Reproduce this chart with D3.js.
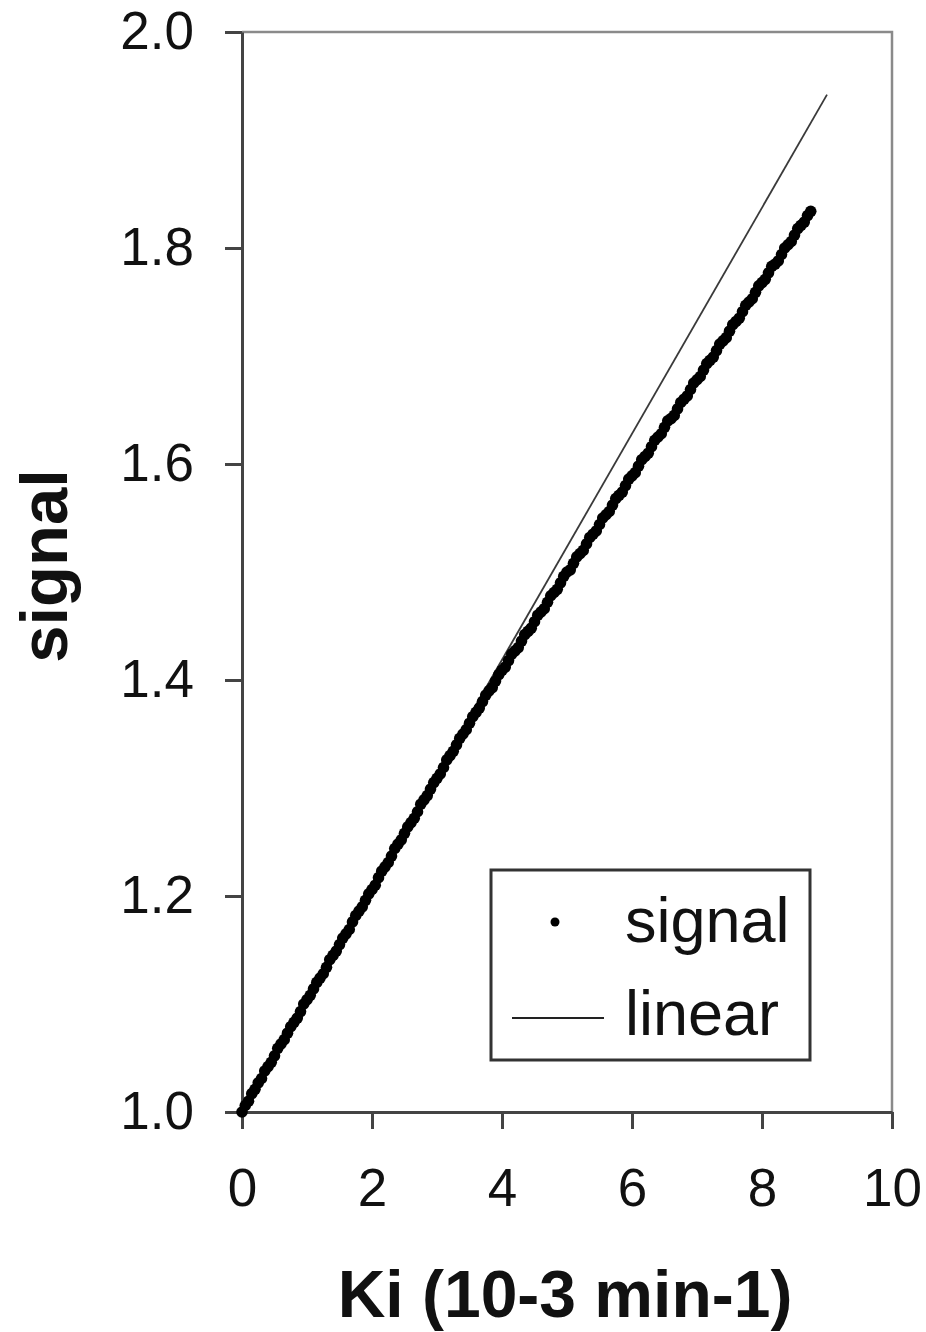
<!DOCTYPE html>
<html>
<head>
<meta charset="utf-8">
<script src="https://cdn.jsdelivr.net/npm/d3@7"></script>
<style>
  body { margin: 0; background: #fff; }
  text { font-family: "Liberation Sans", Arial, sans-serif; }
</style>
</head>
<body>
<div id="chart"></div>
<script>
// Ki values (10-3 min-1) of the measured signal points
var kiValues = [
  0.00, 0.05, 0.10, 0.15, 0.20, 0.25, 0.30, 0.35, 0.40, 0.45,
  0.50, 0.55, 0.60, 0.65, 0.70, 0.75, 0.80, 0.85, 0.90, 0.95,
  1.00, 1.05, 1.10, 1.15, 1.20, 1.25, 1.30, 1.35, 1.40, 1.45,
  1.50, 1.55, 1.60, 1.65, 1.70, 1.75, 1.80, 1.85, 1.90, 1.95,
  2.00, 2.05, 2.10, 2.15, 2.20, 2.25, 2.30, 2.35, 2.40, 2.45,
  2.50, 2.55, 2.60, 2.65, 2.70, 2.75, 2.80, 2.85, 2.90, 2.95,
  3.00, 3.05, 3.10, 3.15, 3.20, 3.25, 3.30, 3.35, 3.40, 3.45,
  3.50, 3.55, 3.60, 3.65, 3.70, 3.75, 3.80, 3.85, 3.90, 3.95,
  4.00, 4.05, 4.10, 4.15, 4.20, 4.25, 4.30, 4.35, 4.40, 4.45,
  4.50, 4.55, 4.60, 4.65, 4.70, 4.75, 4.80, 4.85, 4.90, 4.95,
  5.00, 5.05, 5.10, 5.15, 5.20, 5.25, 5.30, 5.35, 5.40, 5.45,
  5.50, 5.55, 5.60, 5.65, 5.70, 5.75, 5.80, 5.85, 5.90, 5.95,
  6.00, 6.05, 6.10, 6.15, 6.20, 6.25, 6.30, 6.35, 6.40, 6.45,
  6.50, 6.55, 6.60, 6.65, 6.70, 6.75, 6.80, 6.85, 6.90, 6.95,
  7.00, 7.05, 7.10, 7.15, 7.20, 7.25, 7.30, 7.35, 7.40, 7.45,
  7.50, 7.55, 7.60, 7.65, 7.70, 7.75, 7.80, 7.85, 7.90, 7.95,
  8.00, 8.05, 8.10, 8.15, 8.20, 8.25, 8.30, 8.35, 8.40, 8.45,
  8.50, 8.55, 8.60, 8.65, 8.70, 8.75];

// signal
var signalValues = [
  1.000, 1.006, 1.010, 1.017, 1.021, 1.027, 1.031, 1.038, 1.042, 1.046,
  1.052, 1.059, 1.063, 1.067, 1.073, 1.079, 1.083, 1.087, 1.093, 1.100,
  1.104, 1.108, 1.114, 1.120, 1.124, 1.128, 1.134, 1.141, 1.145, 1.149,
  1.155, 1.161, 1.165, 1.169, 1.176, 1.182, 1.186, 1.190, 1.196, 1.202,
  1.206, 1.210, 1.217, 1.223, 1.227, 1.231, 1.237, 1.244, 1.248, 1.252,
  1.258, 1.264, 1.268, 1.272, 1.278, 1.285, 1.289, 1.293, 1.299, 1.305,
  1.309, 1.313, 1.319, 1.326, 1.330, 1.334, 1.340, 1.346, 1.350, 1.354,
  1.360, 1.366, 1.370, 1.374, 1.380, 1.386, 1.390, 1.393, 1.399, 1.405,
  1.409, 1.412, 1.418, 1.424, 1.427, 1.430, 1.436, 1.442, 1.445, 1.448,
  1.454, 1.460, 1.463, 1.466, 1.472, 1.478, 1.481, 1.484, 1.490, 1.496,
  1.500, 1.502, 1.508, 1.514, 1.517, 1.520, 1.526, 1.532, 1.535, 1.538,
  1.544, 1.550, 1.553, 1.556, 1.562, 1.568, 1.571, 1.574, 1.580, 1.586,
  1.589, 1.592, 1.598, 1.604, 1.607, 1.610, 1.616, 1.622, 1.625, 1.628,
  1.634, 1.640, 1.642, 1.645, 1.651, 1.657, 1.660, 1.663, 1.669, 1.675,
  1.678, 1.681, 1.687, 1.693, 1.696, 1.699, 1.705, 1.711, 1.714, 1.717,
  1.723, 1.729, 1.732, 1.735, 1.741, 1.747, 1.750, 1.753, 1.759, 1.765,
  1.768, 1.771, 1.777, 1.783, 1.785, 1.788, 1.794, 1.800, 1.803, 1.806,
  1.812, 1.818, 1.821, 1.824, 1.830, 1.834];

// linear fit: end points
var linearKi = [0, 9];
var linearValues = [1.0, 1.942];

var xTicks = [0, 2, 4, 6, 8, 10];
var yTicks = [1.0, 1.2, 1.4, 1.6, 1.8, 2.0];

var svgWidth = 926;
var svgHeight = 1332;

var margin = { top: 32, left: 242 };
var width = 650;
var height = 1080;

var svg = d3.select("#chart")
  .append("svg")
  .attr("width", svgWidth)
  .attr("height", svgHeight);

var chartGroup = svg.append("g")
  .attr("transform", `translate(${margin.left}, ${margin.top})`);

// scales
var xScale = d3.scaleLinear().domain([0, 10]).range([0, width]);
var yScale = d3.scaleLinear().domain([1, 2]).range([height, 0]);

// top and right frame lines
chartGroup.append("path")
  .attr("d", `M0,0H${width}V${height}`)
  .attr("fill", "none")
  .attr("stroke", "#8a8a8a")
  .attr("stroke-width", 2.5);

// axes
var bottomAxis = d3.axisBottom(xScale)
  .tickValues(xTicks)
  .tickFormat(d3.format("d"))
  .tickSizeInner(17)
  .tickSizeOuter(0)
  .tickPadding(39);

var leftAxis = d3.axisLeft(yScale)
  .tickValues(yTicks)
  .tickFormat(d3.format(".1f"))
  .tickSizeInner(17)
  .tickSizeOuter(0)
  .tickPadding(31);

var xAxisG = chartGroup.append("g")
  .attr("transform", `translate(0, ${height})`)
  .call(bottomAxis);

var yAxisG = chartGroup.append("g")
  .call(leftAxis);

[xAxisG, yAxisG].forEach(function(g) {
  g.selectAll(".domain").attr("stroke", "#444").attr("stroke-width", 3);
  g.selectAll(".tick line").attr("stroke", "#444").attr("stroke-width", 3);
  g.selectAll(".tick text")
    .attr("fill", "#111")
    .style("font-family", "'Liberation Sans', Arial, sans-serif")
    .style("font-size", "53px");
});

// linear line
var linearData = linearKi.map((k, i) => ({ x: k, y: linearValues[i] }));
var lineGen = d3.line().x(d => xScale(d.x)).y(d => yScale(d.y));

chartGroup.append("path")
  .datum(linearData)
  .attr("d", lineGen)
  .attr("fill", "none")
  .attr("stroke", "#3a3a3a")
  .attr("stroke-width", 1.8);

// signal points
var signalData = kiValues.map((k, i) => ({ x: k, y: signalValues[i] }));

chartGroup.selectAll(".sig")
  .data(signalData)
  .enter()
  .append("circle")
  .attr("class", "sig")
  .attr("cx", d => xScale(d.x))
  .attr("cy", d => yScale(d.y))
  .attr("r", 5.8)
  .attr("fill", "#000");

// legend
var legend = svg.append("g");

legend.append("rect")
  .attr("x", 491)
  .attr("y", 870)
  .attr("width", 319)
  .attr("height", 190)
  .attr("fill", "#fff")
  .attr("stroke", "#333")
  .attr("stroke-width", 3);

legend.append("circle")
  .attr("cx", 555)
  .attr("cy", 922)
  .attr("r", 4.5)
  .attr("fill", "#000");

legend.append("text")
  .attr("x", 625)
  .attr("y", 942)
  .style("font-size", "63px")
  .attr("fill", "#111")
  .text("signal");

legend.append("line")
  .attr("x1", 512)
  .attr("x2", 604)
  .attr("y1", 1018)
  .attr("y2", 1018)
  .attr("stroke", "#222")
  .attr("stroke-width", 2);

legend.append("text")
  .attr("x", 625)
  .attr("y", 1035)
  .style("font-size", "63px")
  .attr("fill", "#111")
  .text("linear");

// axis titles
svg.append("text")
  .attr("transform", "rotate(-90)")
  .attr("x", -566)
  .attr("y", 67)
  .attr("text-anchor", "middle")
  .style("font-size", "67px")
  .style("font-weight", "bold")
  .attr("fill", "#111")
  .text("signal");

svg.append("text")
  .attr("x", 565)
  .attr("y", 1317)
  .attr("text-anchor", "middle")
  .style("font-size", "66px")
  .style("font-weight", "bold")
  .attr("fill", "#111")
  .text("Ki (10-3 min-1)");
</script>
</body>
</html>
